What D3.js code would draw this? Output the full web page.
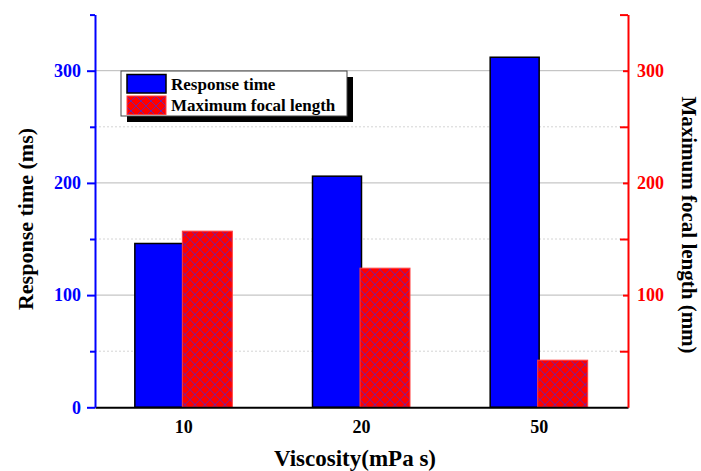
<!DOCTYPE html>
<html>
<head>
<meta charset="utf-8">
<script src="https://cdn.jsdelivr.net/npm/d3@7"></script>
<style>
    body { margin: 0; background: #fff; }
    text { font-family: "Liberation Serif", "Times New Roman", serif; font-weight: bold; }
</style>
</head>
<body>
<div id="plot"></div>
<script>
// Data
let viscosity = ['10', '20', '50'];
let responseTime = [146, 206, 312];
let focalLength = [157, 124, 42];
let majorTicks = [0, 100, 200, 300];
let minorTicks = [50, 150, 250, 350];
let rightTicks = [100, 200, 300];
let seriesNames = ['Response time', 'Maximum focal length'];

let svgWidth = 701;
let svgHeight = 471;

let margin = {
    top: 14.6,
    right: 73,
    bottom: 63.7,
    left: 95
};

let chartWidth = svgWidth - margin.left - margin.right;
let chartHeight = svgHeight - margin.top - margin.bottom;

let $svg = d3.select('#plot')
    .append('svg')
    .attr('width', svgWidth)
    .attr('height', svgHeight);

// Cross-hatch pattern for the focal length bars
let defs = $svg.append('defs');
let pattern = defs.append('pattern')
    .attr('id', 'hatch')
    .attr('patternUnits', 'userSpaceOnUse')
    .attr('width', 10)
    .attr('height', 10);
pattern.append('rect')
    .attr('width', 10)
    .attr('height', 10)
    .attr('fill', '#ff0000');
pattern.append('path')
    .attr('d', 'M0,0L10,10M10,0L0,10')
    .attr('stroke', '#4a2ccf')
    .attr('stroke-width', 0.8)
    .attr('fill', 'none');

let chartGroup = $svg.append('g')
    .attr('transform', `translate(${margin.left}, ${margin.top})`);

// Scales
let xScale = d3.scaleBand()
    .domain(viscosity)
    .range([0, chartWidth])
    .padding(0);

let yScale = d3.scaleLinear()
    .domain([0, 350])
    .range([chartHeight, 0]);

let barWidth = 49;

// Grid lines
chartGroup.append('g')
    .selectAll('line')
    .data(minorTicks.filter(d => d < 350))
    .enter()
    .append('line')
    .attr('x1', 0)
    .attr('x2', chartWidth)
    .attr('y1', d => yScale(d))
    .attr('y2', d => yScale(d))
    .attr('stroke', '#d4d4d4')
    .attr('stroke-dasharray', '2,2');

chartGroup.append('g')
    .selectAll('line')
    .data(majorTicks.filter(d => d > 0))
    .enter()
    .append('line')
    .attr('x1', 0)
    .attr('x2', chartWidth)
    .attr('y1', d => yScale(d))
    .attr('y2', d => yScale(d))
    .attr('stroke', '#b8b8b8');

// Bars
let center = d => xScale(d) + xScale.bandwidth() / 2;

chartGroup.append('g')
    .selectAll('rect')
    .data(viscosity)
    .enter()
    .append('rect')
    .attr('x', d => center(d) - barWidth)
    .attr('y', (d, i) => yScale(responseTime[i]))
    .attr('width', barWidth)
    .attr('height', (d, i) => chartHeight - yScale(responseTime[i]))
    .attr('fill', '#0000ff')
    .attr('stroke', '#000')
    .attr('stroke-width', 1.5);

chartGroup.append('g')
    .selectAll('rect')
    .data(viscosity)
    .enter()
    .append('rect')
    .attr('x', d => center(d) - 1.5)
    .attr('y', (d, i) => yScale(focalLength[i]))
    .attr('width', barWidth + 1)
    .attr('height', (d, i) => chartHeight - yScale(focalLength[i]))
    .attr('fill', 'url(#hatch)')
    .attr('stroke', '#ff4040')
    .attr('stroke-width', 1);

// Axes
let bottomAxis = d3.axisBottom(xScale).tickSize(0).tickPadding(13);
let leftAxis = d3.axisLeft(yScale).tickValues(majorTicks).tickSize(8).tickSizeOuter(0).tickPadding(6);
let leftMinor = d3.axisLeft(yScale).tickValues(minorTicks).tickSize(5).tickSizeOuter(0).tickFormat('');
let rightAxis = d3.axisRight(yScale).tickValues(rightTicks).tickSize(-5).tickSizeOuter(0).tickPadding(9);
let rightMinor = d3.axisRight(yScale).tickValues(minorTicks).tickSize(-8).tickSizeOuter(0).tickFormat('');

let xAxisG = chartGroup.append('g')
    .attr('transform', `translate(0, ${chartHeight})`)
    .call(bottomAxis);
xAxisG.select('.domain').attr('stroke', '#000').attr('stroke-width', 2);
xAxisG.selectAll('text')
    .attr('font-size', 18)
    .attr('fill', '#000')
    .style('font-family', '"Liberation Serif", serif');

let leftG = chartGroup.append('g').call(leftAxis);
let leftMinorG = chartGroup.append('g').call(leftMinor);
leftMinorG.select('.domain').remove();
leftMinorG.selectAll('line').attr('stroke', '#0000ff').attr('stroke-width', 2);
leftG.select('.domain').attr('stroke', '#0000ff').attr('stroke-width', 2);
leftG.selectAll('line').attr('stroke', '#0000ff').attr('stroke-width', 2);
leftG.selectAll('text')
    .attr('font-size', 18)
    .attr('fill', '#0000ff')
    .style('font-family', '"Liberation Serif", serif');

let rightG = chartGroup.append('g')
    .attr('transform', `translate(${chartWidth}, 0)`)
    .call(rightAxis);
let rightMinorG = chartGroup.append('g')
    .attr('transform', `translate(${chartWidth}, 0)`)
    .call(rightMinor);
rightMinorG.select('.domain').remove();
rightMinorG.selectAll('line').attr('stroke', '#ff0000').attr('stroke-width', 2);
rightG.select('.domain').attr('stroke', '#ff0000').attr('stroke-width', 2);
rightG.selectAll('line').attr('stroke', '#ff0000').attr('stroke-width', 2);
rightG.selectAll('text')
    .attr('font-size', 18)
    .attr('fill', '#ff0000')
    .style('font-family', '"Liberation Serif", serif');

// Axis titles
$svg.append('text')
    .attr('transform', `translate(33, 219) rotate(-90)`)
    .attr('text-anchor', 'middle')
    .attr('font-size', 22)
    .text('Response time (ms)');

$svg.append('text')
    .attr('transform', `translate(682, 225) rotate(90)`)
    .attr('text-anchor', 'middle')
    .attr('font-size', 21)
    .text('Maximum focal length (mm)');

$svg.append('text')
    .attr('x', 355)
    .attr('y', 466)
    .attr('text-anchor', 'middle')
    .attr('font-size', 23)
    .text('Viscosity(mPa s)');

// Legend
let legend = $svg.append('g').attr('transform', 'translate(121, 71)');
legend.append('rect')
    .attr('x', 6)
    .attr('y', 6)
    .attr('width', 226)
    .attr('height', 45)
    .attr('fill', '#000');
legend.append('rect')
    .attr('width', 226)
    .attr('height', 45)
    .attr('fill', '#fff')
    .attr('stroke', '#444')
    .attr('stroke-width', 1);

let swatchFill = ['#0000ff', 'url(#hatch)'];
let swatchStroke = ['#000', '#ff4040'];
seriesNames.forEach((name, i) => {
    legend.append('rect')
        .attr('x', 6)
        .attr('y', 3.5 + i * 21.5)
        .attr('width', 39)
        .attr('height', 18.5)
        .attr('fill', swatchFill[i])
        .attr('stroke', swatchStroke[i])
        .attr('stroke-width', i === 0 ? 1.5 : 1);
    legend.append('text')
        .attr('x', 50)
        .attr('y', 18.5 + i * 21)
        .attr('font-size', 17)
        .text(name);
});
</script>
</body>
</html>
